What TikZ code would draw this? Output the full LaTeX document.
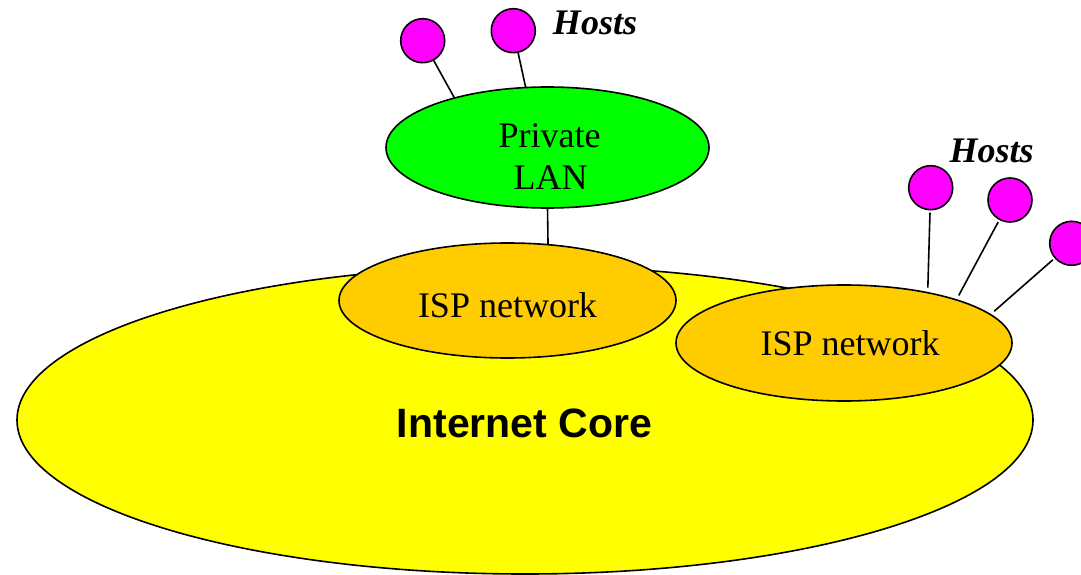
\documentclass[tikz,border=0pt]{standalone}
\usepackage{fontspec}
\setmainfont{Liberation Serif}
\newfontfamily\coresans{Liberation Sans}
\usetikzlibrary{shapes.geometric}

\definecolor{coreyellow}{HTML}{FFFF00}
\definecolor{ispgold}{HTML}{FFCC00}
\definecolor{langreen}{HTML}{00FF00}
\definecolor{hostpink}{HTML}{FF00FF}

\tikzset{
  net/.style={ellipse, draw=black, line width=1.6pt, inner sep=0pt, outer sep=0pt},
  host/.style={circle, draw=black, fill=hostpink, line width=1.6pt,
               minimum size=44pt, inner sep=0pt, outer sep=0pt},
  link/.style={draw=black, line width=1.6pt},
  farlink/.style={link, shorten >=5pt, shorten <=3pt},
  netlabel/.style={anchor=base, inner sep=0pt, font=\fontsize{36}{36}\selectfont},
  hostlabel/.style={anchor=base, inner sep=0pt,
                    font=\fontsize{36}{36}\selectfont\bfseries\itshape},
  corelabel/.style={anchor=base, inner sep=0pt,
                    font=\fontsize{41}{41}\selectfont\coresans\bfseries}
}

\begin{document}
\begin{tikzpicture}[x=1pt, y=-1pt]
  \useasboundingbox (0,0) rectangle (1081,575);

  % network clouds
  \node[net, fill=coreyellow, minimum width=1016pt, minimum height=308pt] (core) at (525,420) {};
  \node[net, fill=ispgold, minimum width=337pt, minimum height=115pt] (isp1) at (507.5,300.5) {};
  \node[net, fill=ispgold, minimum width=336pt, minimum height=116pt] (isp2) at (844,343) {};
  \node[net, fill=langreen, minimum width=323pt, minimum height=121pt] (lan) at (547.5,147.5) {};

  % labels
  \node[corelabel] (corelbl) at (524.5,437) {Internet Core};
  \node[netlabel] (isp1lbl) at (507.5,317) {ISP network};
  \node[netlabel] (isp2lbl) at (850,355) {ISP network};
  \node[netlabel] (lanlbl1) at (549.5,147) {Private};
  \node[netlabel] (lanlbl2) at (550.5,189) {LAN};

  % hosts
  \node[host] (h1) at (422.7,40.7) {};
  \node[host] (h2) at (513.3,30.7) {};
  \node[host] (h3) at (930.7,187.7) {};
  \node[host] (h4) at (1010,200) {};
  \node[host] (h5) at (1071.7,243.3) {};
  \node[hostlabel] (hostsA) at (595,35) {Hosts};
  \node[hostlabel] (hostsB) at (991.5,162) {Hosts};

  % connections
  \draw[link] (h1) -- (lan.152.1);
  \draw[link] (h2) -- (lan.110.1);
  \draw[link] (lan.south) -- (isp1.54);
  \draw[farlink] (h3) -- (isp2.31.6);
  \draw[farlink] (h4) -- (isp2.21.4);
  \draw[farlink] (h5) -- (isp2.11.6);
\end{tikzpicture}
\end{document}
